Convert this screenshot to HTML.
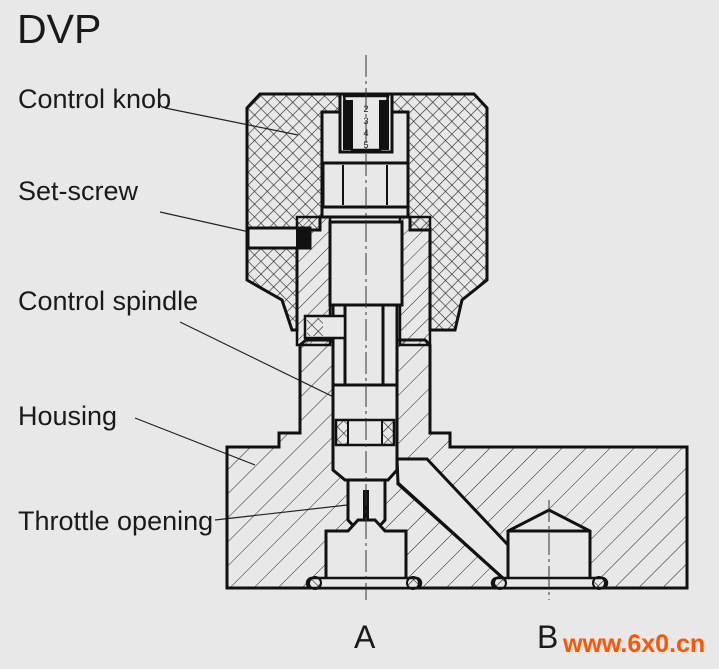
<!DOCTYPE html>
<html><head><style>
html,body{margin:0;padding:0;background:#e8e8e8;}
svg{display:block;}
text{font-family:"Liberation Sans",Arial,sans-serif;fill:#1a1a1a;}
</style></head><body>
<svg width="719" height="669" viewBox="0 0 719 669" xmlns="http://www.w3.org/2000/svg">
<defs>
<pattern id="h" width="17" height="17" patternUnits="userSpaceOnUse" patternTransform="rotate(45)">
<line x1="0" y1="0" x2="0" y2="17" stroke="#222" stroke-width="1"/>
</pattern>
<pattern id="hs" width="11" height="11" patternUnits="userSpaceOnUse" patternTransform="rotate(45)">
<line x1="0" y1="0" x2="0" y2="11" stroke="#222" stroke-width="1"/>
</pattern>
<pattern id="x" width="9" height="9" patternUnits="userSpaceOnUse" patternTransform="rotate(45)">
<line x1="0" y1="0" x2="0" y2="9" stroke="#222" stroke-width="1.2"/>
<line x1="0" y1="0" x2="9" y2="0" stroke="#222" stroke-width="1.2"/>
</pattern>
</defs>
<rect width="719" height="669" fill="#e8e8e8"/>

<text x="17" y="43" font-size="41">DVP</text>
<text x="18" y="108" font-size="27">Control knob</text>
<text x="18" y="200" font-size="27">Set-screw</text>
<text x="18" y="310" font-size="27">Control spindle</text>
<text x="18" y="425" font-size="27">Housing</text>
<text x="18" y="530" font-size="27">Throttle opening</text>

<g stroke="#222" stroke-width="1.2" fill="none">
<line x1="165" y1="108" x2="298" y2="135"/>
<line x1="160" y1="212" x2="276" y2="238"/>
<line x1="180" y1="322" x2="350" y2="405"/>
<line x1="135" y1="418" x2="255" y2="465"/>
<line x1="215" y1="520" x2="365" y2="503"/>
</g>

<path d="M227,447 H279 V433 H300 V345 L306,340 H425 L430,345 V433 H450 V447 H687 V588 H227 Z" fill="url(#h)" stroke="#111" stroke-width="3"/>
<path d="M333,300 H397 V470 L388,480 H345 L333,470 Z" fill="#e8e8e8" stroke="#111" stroke-width="3"/>
<line x1="333" y1="385" x2="397" y2="385" stroke="#111" stroke-width="3"/>
<rect x="336" y="420" width="58" height="25" fill="#e8e8e8" stroke="#111" stroke-width="2.5"/>
<rect x="336" y="420" width="12" height="25" fill="url(#x)" stroke="#111" stroke-width="2"/>
<rect x="382" y="420" width="12" height="25" fill="url(#x)" stroke="#111" stroke-width="2"/>
<path d="M348,480 H385 V520 L375,531 H358 L348,520 Z" fill="#e8e8e8" stroke="#111" stroke-width="3"/>
<rect x="363" y="490" width="6" height="40" fill="#111"/>
<path d="M326,580 V531 H348 L358,520 H375 L385,531 H406 V580 Z" fill="#e8e8e8" stroke="#111" stroke-width="3"/>
<path d="M397,459 H427 L508,545 V580 H505 L398,483 Z" fill="#e8e8e8" stroke="#111" stroke-width="3"/>
<path d="M397,483 L505,580" stroke="#111" stroke-width="3"/>
<path d="M508,580 V531 L549,510 L590,531 V580 Z" fill="#e8e8e8" stroke="#111" stroke-width="3"/>
<line x1="508" y1="531" x2="590" y2="531" stroke="#111" stroke-width="3"/>
<rect x="307" y="578" width="114" height="10" rx="5" fill="#e8e8e8" stroke="#111" stroke-width="2.5"/>
<rect x="492" y="578" width="115" height="10" rx="5" fill="#e8e8e8" stroke="#111" stroke-width="2.5"/>
<circle cx="315" cy="583" r="6" fill="url(#x)" stroke="#111" stroke-width="2"/>
<circle cx="413" cy="583" r="6" fill="url(#x)" stroke="#111" stroke-width="2"/>
<circle cx="500" cy="583" r="6" fill="url(#x)" stroke="#111" stroke-width="2"/>
<circle cx="599" cy="583" r="6" fill="url(#x)" stroke="#111" stroke-width="2"/>

<path d="M247,108 L260,94 H474 L487,108 V280 L462,300 L455,330 H430 V230 H410 V217 H320 V230 H297 V330 H292 L282,300 L247,280 Z" fill="url(#x)" stroke="#111" stroke-width="3"/>
<rect x="322" y="112" width="86" height="105" fill="#e8e8e8" stroke="#111" stroke-width="3"/>
<path d="M340,94 H392 V152 H340 Z" fill="#e8e8e8" stroke="#111" stroke-width="3"/>
<path d="M344,96 L352,150 H380 L388,96 Z" fill="#e8e8e8" stroke="#111" stroke-width="2.5"/>
<g fill="#111"><rect x="343" y="100" width="10" height="50"/><rect x="379" y="100" width="10" height="50"/></g>
<g font-size="9" text-anchor="middle"><text x="366" y="112">2</text><text x="366" y="124">3</text><text x="366" y="136">4</text><text x="366" y="148">5</text></g>
<path d="M323,163 H408 V207 H323 Z" fill="#e8e8e8" stroke="#111" stroke-width="3"/>
<line x1="343" y1="165" x2="343" y2="205" stroke="#111" stroke-width="2"/>
<line x1="387" y1="165" x2="387" y2="205" stroke="#111" stroke-width="2"/>
<path d="M297,217 H330 V345 H297 Z" fill="url(#hs)" stroke="#111" stroke-width="2.5"/>
<path d="M400,217 H430 V345 H400 Z" fill="url(#hs)" stroke="#111" stroke-width="2.5"/>
<rect x="330" y="222" width="72" height="83" fill="#e8e8e8" stroke="#111" stroke-width="3"/>
<rect x="345" y="305" width="38" height="80" fill="#e8e8e8" stroke="#111" stroke-width="3"/>
<rect x="248" y="228" width="62" height="20" fill="#e8e8e8" stroke="#111" stroke-width="3"/>
<rect x="296" y="228" width="14" height="20" fill="#111"/>
<rect x="305" y="316" width="40" height="22" fill="#e8e8e8" stroke="#111" stroke-width="2.5"/>
<rect x="307" y="318" width="16" height="18" fill="url(#x)"/>

<g stroke="#333" stroke-width="1" stroke-dasharray="22,4,3,4">
<line x1="366" y1="55" x2="366" y2="600"/>
<line x1="549" y1="500" x2="549" y2="600"/>
</g>

<text x="354" y="648" font-size="32">A</text>
<text x="537" y="648" font-size="32">B</text>
<text x="563" y="652" font-size="25" font-weight="bold" style="fill:#ff5500">www.6x0.cn</text>
</svg>
</body></html>
